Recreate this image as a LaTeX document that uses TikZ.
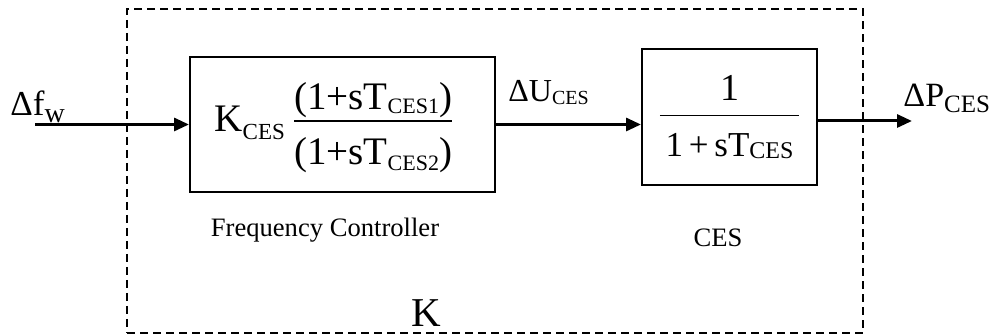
\documentclass[tikz,border=0pt]{standalone}
\usepackage{amsmath}
\usepackage{fontspec}
\setmainfont{Liberation Serif}
\usetikzlibrary{arrows.meta, positioning}
% small lowered index: size, drop, text
\newcommand{\lsub}[3]{\raisebox{-#2}{\fontsize{#1}{#1}\selectfont #3}}
\tikzset{
  blk/.style = {rectangle, draw, line width=1pt, inner sep=0pt},
  frame/.style = {rectangle, draw, line width=0.9pt, dash pattern=on 4pt off 2.5pt},
  arr/.style = {-{Triangle[length=7.5pt, width=6.5pt]}, line width=1.5pt},
  sig/.style = {anchor=base west, inner sep=0pt},
  note/.style = {font=\fontsize{13.3}{15}\selectfont, anchor=base, inner sep=0pt},
}

\begin{document}
\begin{tikzpicture}[x=0.5pt, y=-0.5pt]
\useasboundingbox (0,0) rectangle (993,335);

\node[frame, minimum width=368pt, minimum height=162pt] (kbox) at (495,171) {};

% lead-lag controller
\node[blk, minimum width=152.5pt, minimum height=67.5pt,
      font=\fontsize{19.5}{22}\selectfont] (ctrl) at (342.5,124.5)
  {$\text{K\lsub{11.5}{4pt}{CES}}\,
    \dfrac{\raisebox{-3pt}[\height][0pt]{\text{(1+sT\lsub{11}{2pt}{CES1})}}}
          {\rule{0pt}{19pt}\text{(1+sT\lsub{11}{3pt}{CES2})}}\hspace{8pt}$};
% storage lag
\node[blk, minimum width=87.5pt, minimum height=68pt,
      font=\fontsize{17.5}{20}\selectfont] (ces) at (729.5,117)
  {$\dfrac{\text{\fontsize{19}{19}\selectfont 1}}
          {\rule{0pt}{18pt}\,\text{1\,+\,sT\lsub{12}{1pt}{CES}}\,}$};

\coordinate (in)  at (35,124.5);
\coordinate (out) at (912,121);

\draw[arr] (in) -- (ctrl.west);
\draw[arr] (ctrl.east) -- (ctrl.east -| ces.west);
\draw[arr] (out -| ces.east) -- (out);

\node[sig, font=\fontsize{17.5}{20}\selectfont] (df) at (10,116) {Δf\lsub{14}{3.5pt}{w}};
\node[sig, font=\fontsize{16}{18}\selectfont] (du) at (508,102) {ΔU\lsub{10}{1.5pt}{CES}};
\node[sig, font=\fontsize{17}{19}\selectfont] (dp) at (903,107) {ΔP\lsub{12.5}{3pt}{CES}};

\node[note] (fc) at (325,237) {Frequency Controller};
\node[note] (cl) at (718,247) {CES};
\node[note, font=\fontsize{20.5}{22}\selectfont] (kl) at (426,327) {K};

\end{tikzpicture}
\end{document}
